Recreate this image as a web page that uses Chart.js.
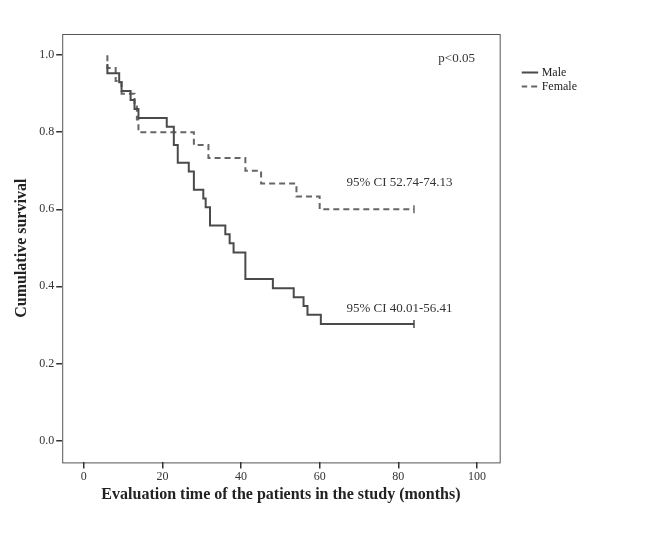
<!DOCTYPE html>
<html>
<head>
<meta charset="utf-8">
<script src="https://cdn.jsdelivr.net/npm/chart.js@4"></script>
<style>
  html, body { margin: 0; padding: 0; background: #fff; }
  #wrap { width: 666px; height: 557px; }
</style>
</head>
<body>
<div id="wrap"><canvas id="km"></canvas></div>
<script>
// Kaplan-Meier steps (time in months, survival)
const maleTimes = [6, 9.0, 9.6, 11.9, 12.9, 13.9, 21.1, 22.9, 23.9, 26.7, 28.0, 30.4, 31.0, 32.1, 36.0, 37.1, 38.1, 41.1, 48.1, 53.4, 55.9, 56.9, 60.3, 62.3, 84];
const maleSurv = [0.977, 0.953, 0.930, 0.907, 0.884, 0.860, 0.837, 0.814, 0.767, 0.721, 0.698, 0.651, 0.628, 0.605, 0.558, 0.535, 0.512, 0.488, 0.419, 0.395, 0.372, 0.349, 0.326, 0.302, 0.302];
const femaleTimes = [6, 8.1, 9.6, 12.9, 13.5, 13.9, 28.0, 31.7, 41.1, 45.1, 54.1, 60.0, 76.1, 84];
const femaleSurv = [1.0, 0.967, 0.933, 0.9, 0.867, 0.833, 0.80, 0.767, 0.733, 0.70, 0.667, 0.633, 0.60, 0.60];
const xTicks = [0, 20, 40, 60, 80, 100];
const yTicks = [0.0, 0.2, 0.4, 0.6, 0.8, 1.0];
const notes = [
  { text: 'p<0.05', x: 99.5, y: 0.992, align: 'right' },
  { text: '95% CI 52.74-74.13', x: 66.8, y: 0.670, align: 'left' },
  { text: '95% CI 40.01-56.41', x: 66.8, y: 0.343, align: 'left' },
];

const serif = '"Liberation Serif", "Times New Roman", serif';
const toPts = (xs, ys) => xs.map((x, i) => ({ x, y: ys[i] }));
// only the last point gets a censor tick
const lastTick = (n) => Array.from({ length: n }, (_, i) => (i === n - 1 ? 4 : 0));

// frame around the plot area
const chartAreaBorder = {
  id: 'chartAreaBorder',
  beforeDraw(chart) {
    const { ctx, chartArea: { left, top, width, height } } = chart;
    ctx.save();
    ctx.strokeStyle = '#555';
    ctx.lineWidth = 1;
    ctx.strokeRect(left + 0.5, top + 0.5, width, height);
    ctx.restore();
  },
};

// push the legend a bit away from the frame
const legendGap = {
  id: 'legendGap',
  afterLayout(chart) {
    if (!chart.legend) return;
    chart.legend.left += 22;
    chart.legend.right += 22;
  },
};

// p-value and CI texts
const noteLabels = {
  id: 'noteLabels',
  afterDatasetsDraw(chart) {
    const { ctx, scales: { x, y } } = chart;
    ctx.save();
    ctx.font = `13px ${serif}`;
    ctx.fillStyle = '#333';
    ctx.textBaseline = 'middle';
    notes.forEach((n) => {
      ctx.textAlign = n.align;
      ctx.fillText(n.text, x.getPixelForValue(n.x), y.getPixelForValue(n.y));
    });
    ctx.restore();
  },
};

new Chart(document.getElementById('km'), {
  type: 'line',
  data: {
    datasets: [
      {
        label: 'Male',
        data: toPts(maleTimes, maleSurv),
        stepped: 'after',
        borderColor: '#4a4a4a',
        borderWidth: 2,
        pointRadius: lastTick(maleTimes.length),
        pointStyle: 'line',
        rotation: 90,
        pointBorderColor: '#4a4a4a',
        pointBorderWidth: 1.5,
      },
      {
        label: 'Female',
        data: toPts(femaleTimes, femaleSurv),
        stepped: 'after',
        borderColor: '#666',
        borderWidth: 2,
        borderDash: [6, 4],
        pointRadius: lastTick(femaleTimes.length),
        pointStyle: 'line',
        rotation: 90,
        pointBorderColor: '#666',
        pointBorderWidth: 1.5,
      },
    ],
  },
  options: {
    responsive: true,
    maintainAspectRatio: false,
    animation: false,
    layout: { padding: { top: 34, right: 101, bottom: 53, left: 12 } },
    plugins: {
      legend: {
        position: 'right',
        align: 'start',
        title: { display: true, text: ' ', padding: { top: 16, bottom: 0 }, font: { size: 12 } },
        labels: {
          usePointStyle: true,
          pointStyle: 'line',
          boxWidth: 18,
          padding: 2,
          color: '#222',
          font: { family: serif, size: 12 },
          // horizontal keys drawn with each dataset's own line style
          generateLabels: (chart) => Chart.defaults.plugins.legend.labels.generateLabels(chart)
            .map((l) => {
              const ds = chart.data.datasets[l.datasetIndex];
              return {
                ...l, rotation: 0, lineDash: ds.borderDash || [], lineWidth: 2, strokeStyle: ds.borderColor,
              };
            }),
        },
      },
      tooltip: { enabled: false },
    },
    scales: {
      x: {
        type: 'linear',
        min: -5.5,
        max: 105.8,
        afterBuildTicks: (scale) => { scale.ticks = xTicks.map((v) => ({ value: v })); },
        grid: { drawOnChartArea: false, tickLength: 6, color: '#333', lineWidth: 1.5 },
        border: { display: false },
        ticks: { color: '#333', font: { family: serif, size: 12 }, padding: 1 },
        title: {
          display: true,
          text: 'Evaluation time of the patients in the study (months)',
          color: '#222',
          font: { family: serif, size: 16, weight: 'bold' },
          padding: { top: 0, bottom: 0 },
        },
      },
      y: {
        min: -0.057,
        max: 1.055,
        afterBuildTicks: (scale) => { scale.ticks = yTicks.map((v) => ({ value: v })); },
        grid: { drawOnChartArea: false, tickLength: 6, color: '#333', lineWidth: 1.5 },
        border: { display: false },
        ticks: { color: '#333', font: { family: serif, size: 12 }, padding: 2, callback: (v) => v.toFixed(1) },
        title: {
          display: true,
          text: 'Cumulative survival',
          color: '#222',
          font: { family: serif, size: 16, weight: 'bold' },
          padding: { top: 0, bottom: 6 },
        },
      },
    },
  },
  plugins: [chartAreaBorder, legendGap, noteLabels],
});
</script>
</body>
</html>
